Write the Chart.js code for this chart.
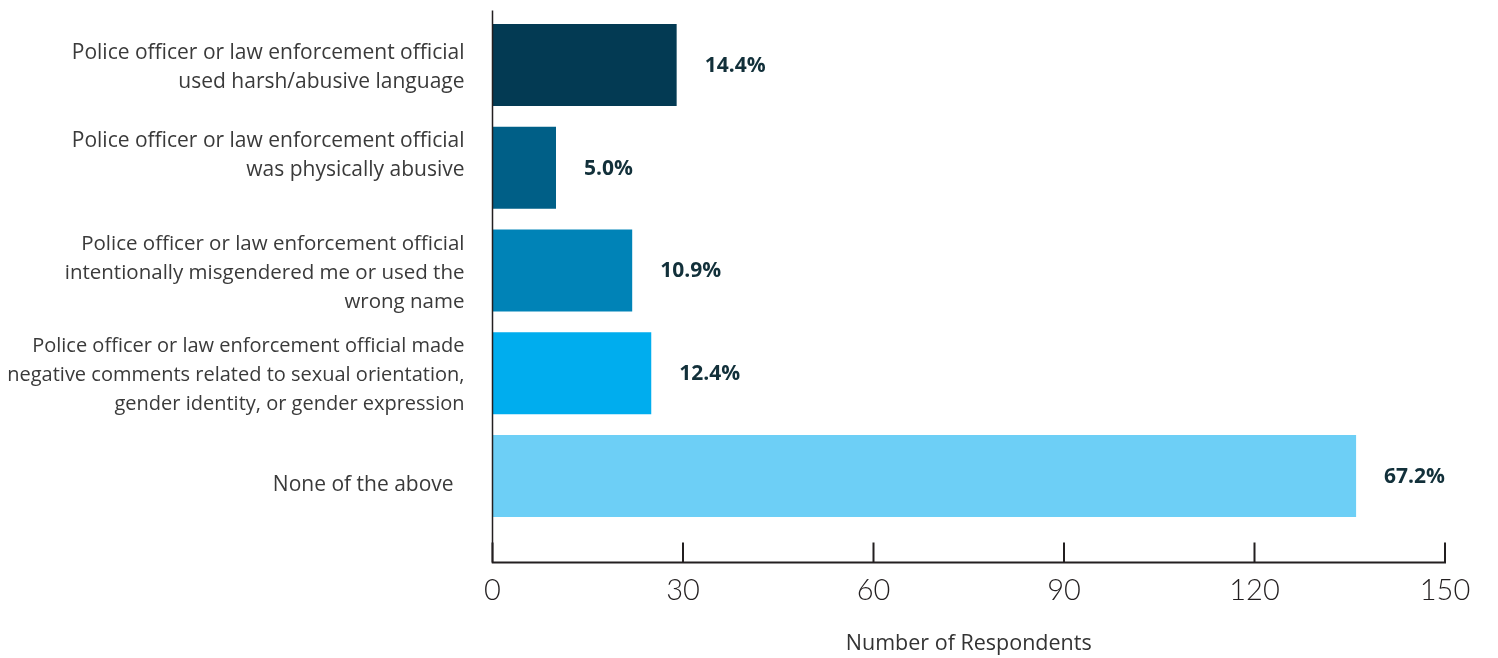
<!DOCTYPE html>
<html>
<head>
<meta charset="utf-8">
<script src="https://cdn.jsdelivr.net/npm/chart.js@4.4.0/dist/chart.umd.min.js"></script>
<style>
  html, body { margin: 0; padding: 0; background: #fff; }
</style>
</head>
<body>
<canvas id="myChart" width="1498" height="658"></canvas>
<script>
let myChart = document.getElementById('myChart').getContext('2d');

//Data
const categories = [
  ['Police officer or law enforcement official', 'used harsh/abusive language'],
  ['Police officer or law enforcement official', 'was physically abusive'],
  ['Police officer or law enforcement official', 'intentionally misgendered me or used the', 'wrong name'],
  ['Police officer or law enforcement official made', 'negative comments related to sexual orientation,', 'gender identity, or gender expression'],
  'None of the above  '
];
const respondents = [29, 10, 22, 25, 136];
const percents = [14.4, 5.0, 10.9, 12.4, 67.2];
const barColors = ['#033a53', '#005f87', '#0083b7', '#00adee', '#6dcff6'];
const xTicks = [0, 30, 60, 90, 120, 150];

//Label sizes (the long labels were set a little smaller)
const labelSizes = [21, 21, 20.5, 20, 21];
//Second label sits a bit high, last one a bit low: pad with an empty line
const labelNudge = [0, -1, 0, 0, 1];

const axisDrop = 35; // axis line sits below the last bar band
const axisColor = '#231f20';

//Axis lines and upward tick marks
const axisLines = {
  id: 'axisLines',
  afterDraw(chart) {
    const {ctx, chartArea, scales: {x}} = chart;
    const yLine = chartArea.bottom + axisDrop;
    ctx.save();
    ctx.strokeStyle = axisColor;
    ctx.lineWidth = 1.5;
    ctx.beginPath();
    ctx.moveTo(chartArea.left, chartArea.top - 3);
    ctx.lineTo(chartArea.left, yLine);
    ctx.stroke();
    ctx.lineWidth = 2;
    ctx.beginPath();
    ctx.moveTo(chartArea.left - 0.75, yLine);
    ctx.lineTo(chartArea.right + 1, yLine);
    xTicks.forEach(t => {
      const px = x.getPixelForValue(t);
      ctx.moveTo(px, yLine);
      ctx.lineTo(px, yLine - 20);
    });
    ctx.stroke();
    ctx.restore();
  }
};

//Percent labels next to each bar
const valueLabels = {
  id: 'valueLabels',
  afterDatasetsDraw(chart) {
    const {ctx} = chart;
    const meta = chart.getDatasetMeta(0);
    ctx.save();
    ctx.font = 'bold 21px "Open Sans"';
    ctx.fillStyle = '#12303a';
    ctx.textAlign = 'left';
    ctx.textBaseline = 'middle';
    meta.data.forEach((bar, i) => {
      ctx.fillText(percents[i].toFixed(1) + '%', bar.x + 28, bar.y + 1);
    });
    ctx.restore();
  }
};

let respondentsChart = new Chart(myChart, {
  type: 'bar',
  data: {
    labels: categories,
    datasets: [{
      label: 'Number of Respondents',
      data: respondents,
      backgroundColor: barColors,
      categoryPercentage: 1,
      barPercentage: 0.8
    }]
  },
  options: {
    indexAxis: 'y',
    responsive: false,
    animation: false,
    layout: {
      padding: {top: 13.6, right: 53, left: 0, bottom: 0}
    },
    plugins: {
      legend: {display: false},
      tooltip: {enabled: false}
    },
    scales: {
      x: {
        min: 0,
        max: 150,
        afterBuildTicks: s => { s.ticks = xTicks.map(v => ({value: v})); },
        afterFit: s => {
          s.height = 130.6;
          s.paddingLeft = 0;
          s.paddingRight = 0;
        },
        grid: {display: false, drawTicks: false},
        border: {display: false},
        ticks: {
          padding: 46,
          color: axisColor,
          font: {family: 'Lato', size: 29, weight: 300, lineHeight: 1.2}
        },
        title: {
          display: true,
          text: 'Number of Respondents',
          color: '#333333',
          padding: {top: 0, bottom: 1},
          font: {family: 'Open Sans', size: 21.5, lineHeight: 1.2}
        }
      },
      y: {
        afterFit: s => {
          s.width = 492.5;
          s.paddingTop = 0;
          s.paddingBottom = 0;
        },
        grid: {display: false, drawTicks: false},
        border: {display: false},
        ticks: {
          padding: 28,
          labelOffset: 2.5,
          color: '#3a3a3a',
          callback: function(value, i) {
            let lines = [].concat(this.getLabelForValue(value));
            if (labelNudge[i] < 0) lines = lines.concat(['']);
            if (labelNudge[i] > 0) lines = [''].concat(lines);
            return lines;
          },
          font: c => ({
            family: 'Open Sans',
            size: labelSizes[c.index],
            lineHeight: labelNudge[c.index] > 0 ? '13px' : '29px'
          })
        }
      }
    }
  },
  plugins: [axisLines, valueLabels]
});
</script>
</body>
</html>
